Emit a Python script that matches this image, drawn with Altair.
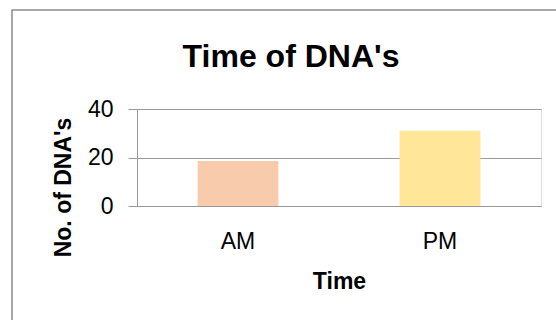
import altair as alt
import pandas as pd

categories = ["AM", "PM"]
values = [18.6, 31.0]
colors = ["#F8CBAD", "#FFE699"]

df = pd.DataFrame({"Time": categories, "Count": values})

FONT = "Liberation Sans"
GRID = "#999999"

bars = alt.Chart(df).mark_bar().encode(
    x=alt.X(
        "Time:N",
        sort=categories,
        scale=alt.Scale(paddingInner=0.6, paddingOuter=0.3),
        axis=alt.Axis(
            title="Time",
            labelAngle=0,
            ticks=False,
            domain=True,
            domainColor=GRID,
            labelFont=FONT,
            labelFontSize=23,
            labelColor="#000000",
            labelBaseline="alphabetic",
            labelPadding=42,
            titleFont=FONT,
            titleFontSize=23,
            titleFontWeight="bold",
            titleColor="#000000",
            titleBaseline="alphabetic",
            titleY=82,
        ),
    ),
    y=alt.Y(
        "Count:Q",
        scale=alt.Scale(domain=[0, 40], nice=False),
        axis=alt.Axis(
            title="No. of DNA's",
            values=[0, 20, 40],
            grid=True,
            gridColor=GRID,
            domainColor=GRID,
            tickColor=GRID,
            tickSize=9,
            labelFont=FONT,
            labelFontSize=23,
            labelColor="#000000",
            labelPadding=15,
            titleFont=FONT,
            titleFontSize=23,
            titleFontWeight="bold",
            titleColor="#000000",
            titleAngle=-90,
            titleAlign="center",
            titleBaseline="middle",
            titleX=-74,
            titleY=78,
        ),
    ),
    color=alt.Color(
        "Time:N",
        scale=alt.Scale(domain=categories, range=colors),
        legend=None,
    ),
)

border = alt.Chart(alt.Data(values=[{}])).mark_rect(
    fill=None, stroke="#8c8c8c", strokeWidth=1.5
).encode(
    x=alt.value(-125),
    y=alt.value(-99),
    x2=alt.value(600),
    y2=alt.value(400),
)

chart = alt.layer(border, bars).properties(
    width=404,
    height=97,
    autosize=alt.AutoSizeParams(type="none"),
    padding={"left": 137, "top": 109, "right": 15, "bottom": 114},
    title=alt.TitleParams(
        "Time of DNA's",
        font=FONT,
        fontSize=32,
        fontWeight="bold",
        color="#000000",
        anchor="middle",
        baseline="alphabetic",
        dx=-48,
        dy=123,
        offset=33,
    ),
).configure_view(stroke=None).configure(background="white")

chart.save("out.html", embed_options={"renderer": "svg", "actions": False})
